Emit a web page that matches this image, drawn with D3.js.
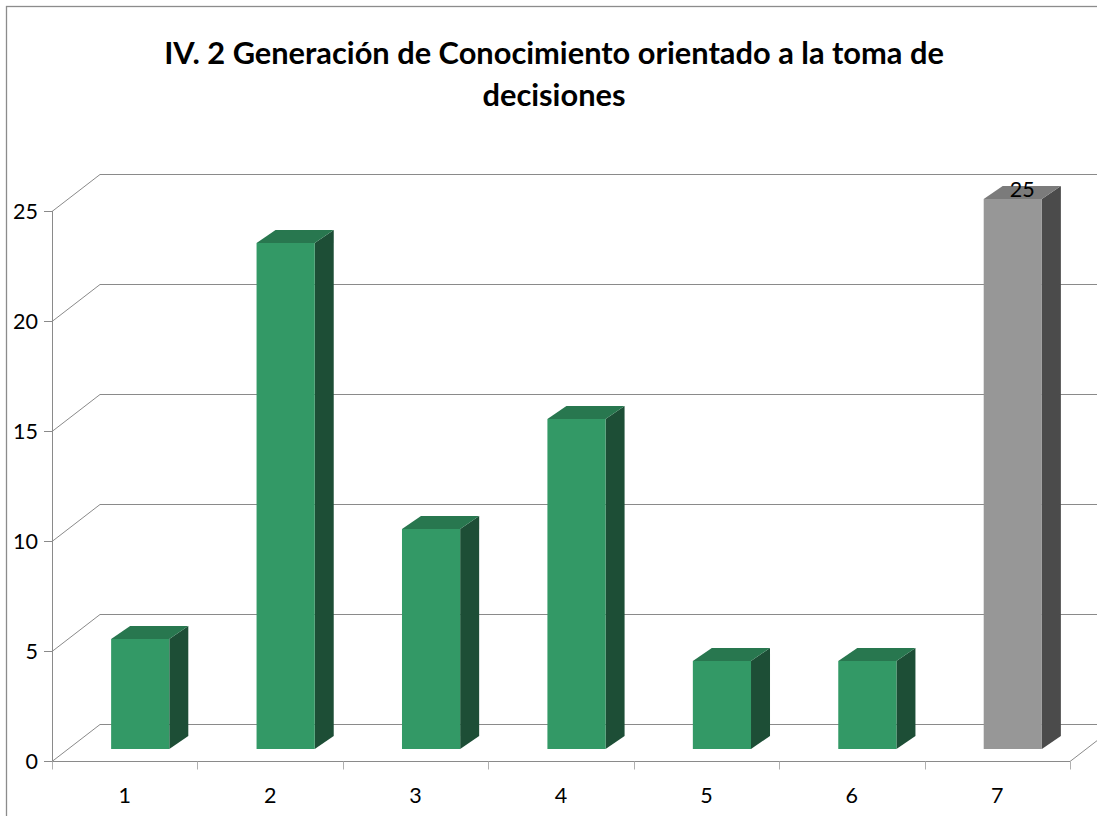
<!DOCTYPE html>
<html>
<head>
<meta charset="utf-8">
<script src="https://cdn.jsdelivr.net/npm/d3@7"></script>
<style>
  html, body { margin: 0; padding: 0; background: #fff; }
  svg { display: block; }
  text { font-family: Lato, "Liberation Sans", sans-serif; fill: #000; }
</style>
</head>
<body>
<svg width="1097" height="816"></svg>
<script>
// data
var categories = ["1", "2", "3", "4", "5", "6", "7"];
var values = [5, 23, 10, 15, 4, 4, 25];
var yTicks = [0, 5, 10, 15, 20, 25];
var titleLines = ["IV. 2 Generación de Conocimiento orientado a la toma de", "decisiones"];
var labelled = ["7"]; // only the last bar carries a data label

var svg = d3.select("svg"),
    width = +svg.attr("width"),
    height = +svg.attr("height");

// depth of the 3d box (back wall offset)
var DX = 48, DY = 37;
// bars sit in the middle of the depth
var bf = { x: 15.5, y: 12 }, bb = { x: 34.5, y: 25 };

var x = d3.scaleBand().domain(categories).range([52, 1070]);
var y = d3.scaleLinear().domain([0, 25]).range([761, 211]);
var barW = x.bandwidth() * 0.4;

// chart border
svg.append("rect")
    .attr("x", 6.5).attr("y", 6.5)
    .attr("width", 1096).attr("height", 820)
    .attr("fill", "none").attr("stroke", "#8c8c8c").attr("stroke-width", 1.3);

// title
svg.append("g").selectAll("text")
    .data(titleLines)
    .enter().append("text")
    .attr("x", 554)
    .attr("y", function (d, i) { return 64 + i * 42; })
    .attr("text-anchor", "middle")
    .style("font-weight", "bold")
    .style("font-size", "30.8px")
    .text(function (d) { return d; });

// gridlines: diagonal on the side wall then flat along the back wall
var grid = svg.append("g").attr("class", "grid");
grid.selectAll("path")
    .data(yTicks)
    .enter().append("path")
    .attr("fill", "none")
    .attr("stroke", "#8a8a8a")
    .attr("stroke-width", 1)
    .attr("d", function (d) {
        var y0 = Math.round(y(d)) + 0.5;
        return "M" + x.range()[0] + "," + y0 +
            "L" + (x.range()[0] + DX) + "," + (y0 - DY) +
            "L" + (width + 10) + "," + (y0 - DY);
    });

// floor front edge + right side of floor
var x1 = x.range()[1], y0 = Math.round(y(0)) + 0.5;
svg.append("path")
    .attr("fill", "none").attr("stroke", "#8a8a8a")
    .attr("d", "M" + x.range()[0] + "," + y0 + "L" + x1 + "," + y0 +
        "L" + (x1 + DX) + "," + (y0 - DY));

// y axis line and ticks
svg.append("line")
    .attr("x1", 52.5).attr("x2", 52.5)
    .attr("y1", y(0)).attr("y2", y(25))
    .attr("stroke", "#8a8a8a");

var yAxis = svg.append("g");
yAxis.selectAll("line")
    .data(yTicks).enter().append("line")
    .attr("x1", 44).attr("x2", 52)
    .attr("y1", function (d) { return Math.round(y(d)) + 0.5; })
    .attr("y2", function (d) { return Math.round(y(d)) + 0.5; })
    .attr("stroke", "#8a8a8a");
yAxis.selectAll("text")
    .data(yTicks).enter().append("text")
    .attr("x", 38)
    .attr("y", function (d) { return y(d) + 8; })
    .attr("text-anchor", "end")
    .style("font-size", "21.5px")
    .text(function (d) { return d; });

// x ticks (at band edges) and labels
var edges = categories.map(function (c) { return x(c); }).concat([x1]);
svg.append("g").selectAll("line")
    .data(edges).enter().append("line")
    .attr("x1", function (d) { return Math.round(d) + 0.5; })
    .attr("x2", function (d) { return Math.round(d) + 0.5; })
    .attr("y1", y0).attr("y2", y0 + 8)
    .attr("stroke", "#b0b0b0");

svg.append("g").selectAll("text")
    .data(categories).enter().append("text")
    .attr("x", function (d) { return x(d) + x.bandwidth() / 2; })
    .attr("y", 803)
    .attr("text-anchor", "middle")
    .style("font-size", "21.5px")
    .text(function (d) { return d; });

// bars
var bars = categories.map(function (c, i) {
    var gray = c === "7";
    return {
        cat: c, value: values[i],
        front: gray ? "#979797" : "#339966",
        top: gray ? "#7b7b7b" : "#28774f",
        side: gray ? "#4b4b4b" : "#1d4e36"
    };
});

var barG = svg.append("g").selectAll("g")
    .data(bars).enter().append("g");

function pts(arr) { return arr.map(function (p) { return p.join(","); }).join(" "); }

barG.append("polygon") // side
    .attr("fill", function (d) { return d.side; })
    .attr("points", function (d) {
        var xl = x(d.cat) + (x.bandwidth() - barW) / 2, xr = xl + barW;
        var yt = y(d.value), yb = y(0);
        return pts([[xr + bf.x, yt - bf.y], [xr + bb.x, yt - bb.y],
            [xr + bb.x, yb - bb.y], [xr + bf.x, yb - bf.y]]);
    });
barG.append("polygon") // top
    .attr("fill", function (d) { return d.top; })
    .attr("points", function (d) {
        var xl = x(d.cat) + (x.bandwidth() - barW) / 2, xr = xl + barW;
        var yt = y(d.value);
        return pts([[xl + bf.x, yt - bf.y], [xl + bb.x, yt - bb.y],
            [xr + bb.x, yt - bb.y], [xr + bf.x, yt - bf.y]]);
    });
barG.append("rect") // front
    .attr("fill", function (d) { return d.front; })
    .attr("x", function (d) { return x(d.cat) + (x.bandwidth() - barW) / 2 + bf.x; })
    .attr("y", function (d) { return y(d.value) - bf.y; })
    .attr("width", barW)
    .attr("height", function (d) { return y(0) - y(d.value); });

// data label
barG.filter(function (d) { return labelled.indexOf(d.cat) >= 0; })
    .append("text")
    .attr("x", function (d) {
        return x(d.cat) + x.bandwidth() / 2 + (bf.x + bb.x) / 2;
    })
    .attr("y", function (d) { return y(d.value) - bf.y - 2; })
    .attr("text-anchor", "middle")
    .style("font-size", "21.5px")
    .text(function (d) { return d.value; });
</script>
</body>
</html>
